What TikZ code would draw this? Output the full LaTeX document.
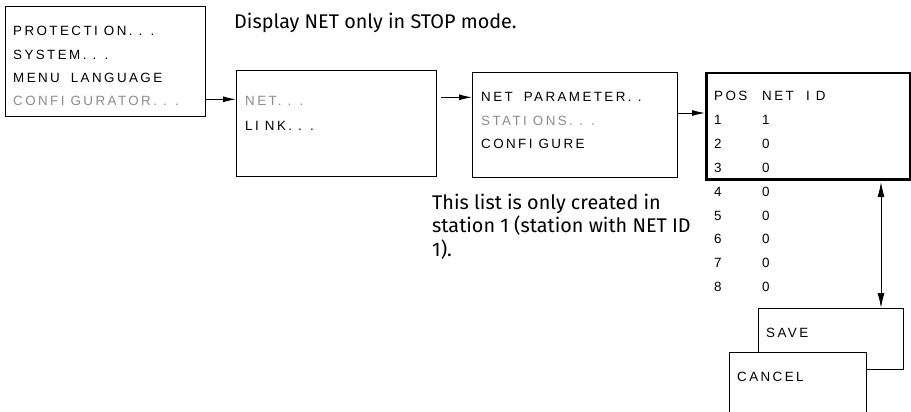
\documentclass[tikz,border=0pt]{standalone}
\usepackage{fontspec}
\usetikzlibrary{arrows.meta}
\newfontfamily\menufont[LetterSpace=18]{Liberation Sans}
\newfontfamily\notefont{Fira Sans}
\newcommand\wgap{\hspace{11pt}}
\definecolor{greytext}{HTML}{8C8C8C}
\tikzset{
  box/.style={draw, line width=1.2pt, fill=white, inner sep=0pt, anchor=north west},
  menu/.style={anchor=base west, inner sep=0pt, font=\menufont\fontsize{13.4}{16}\selectfont},
  grey/.style={menu, text=greytext},
  note/.style={anchor=base west, inner sep=0pt, font=\notefont\fontsize{19.8}{23}\selectfont},
  arr/.style={line width=1pt, -{Latex[length=13pt,width=6pt]}},
  darr/.style={line width=1pt, {Latex[length=15pt,width=7pt]}-{Latex[length=15pt,width=7pt]}}
}
\begin{document}
\begin{tikzpicture}[x=1pt,y=-1pt]
\clip (0,0) rectangle (911,412);
\useasboundingbox (0,0) rectangle (911,412);
% boxes
\node[box, minimum width=200pt, minimum height=110pt] (b1) at (5,6) {};
\node[box, minimum width=200pt, minimum height=106pt] (b2) at (236,70) {};
\node[box, minimum width=205pt, minimum height=105pt] (b3) at (472,72) {};
\node[box, line width=2.5pt, minimum width=204pt, minimum height=106pt] (b4) at (705,72) {};
\node[box, minimum width=145pt, minimum height=61pt] (save) at (758,308) {};
\node[box, minimum width=137pt, minimum height=80pt] (cancel) at (729,352) {};
% menu texts
\node[menu] (t11) at (13,35.7) {PROTECTI ON. . .};
\node[menu] (t12) at (13,59.5) {SYSTEM. . .};
\node[menu] (t13) at (13,82.5) {MENU\wgap LANGUAGE};
\node[grey] (t14) at (13,105.5) {CONFI GURATOR. . .};
\node[grey] (t21) at (245,106) {NET. . .};
\node[menu] (t22) at (245,130.5) {LI NK. . .};
\node[menu] (t31) at (481,101.7) {NET\wgap PARAMETER. .};
\node[grey] (t32) at (481,125.5) {STATI ONS. . .};
\node[menu] (t33) at (481,148.5) {CONFI GURE};
\node[menu] (pos) at (714,101) {POS};
\node[menu] (nid) at (762,101) {NET \ I D};
\foreach \i/\v in {1/1,2/0,3/0,4/0,5/0,6/0,7/0,8/0}{
  \node[menu] (p\i) at (714,101+23.8*\i) {\i};
  \node[menu] (v\i) at (762,101+23.8*\i) {\v};
}
\node[menu] (ts) at (766,337) {SAVE};
\node[menu] (tc) at (737,381.5) {CANCEL};
% notes
\node[note] (n1) at (234,28.3) {Display NET only in STOP mode.};
\node[note] (n2) at (432,209.3) {This list is only created in};
\node[note] (n3) at (432,232.7) {station 1 (station with NET ID};
\node[note] (n4) at (432,256) {1).};
% connectors
\draw[arr] (b1.east |- 0,99.3) -- (b2.west |- 0,99.3);
\draw[arr, shorten <=4pt] (b2.east |- 0,97.3) -- (b3.west |- 0,97.3);
\draw[arr] (b3.east |- 0,113) -- (b4.west |- 0,113);
\draw[darr] (b4.south -| 881,0) ++(0,1.5) -- (save.north -| 881,0);
\end{tikzpicture}
\end{document}
